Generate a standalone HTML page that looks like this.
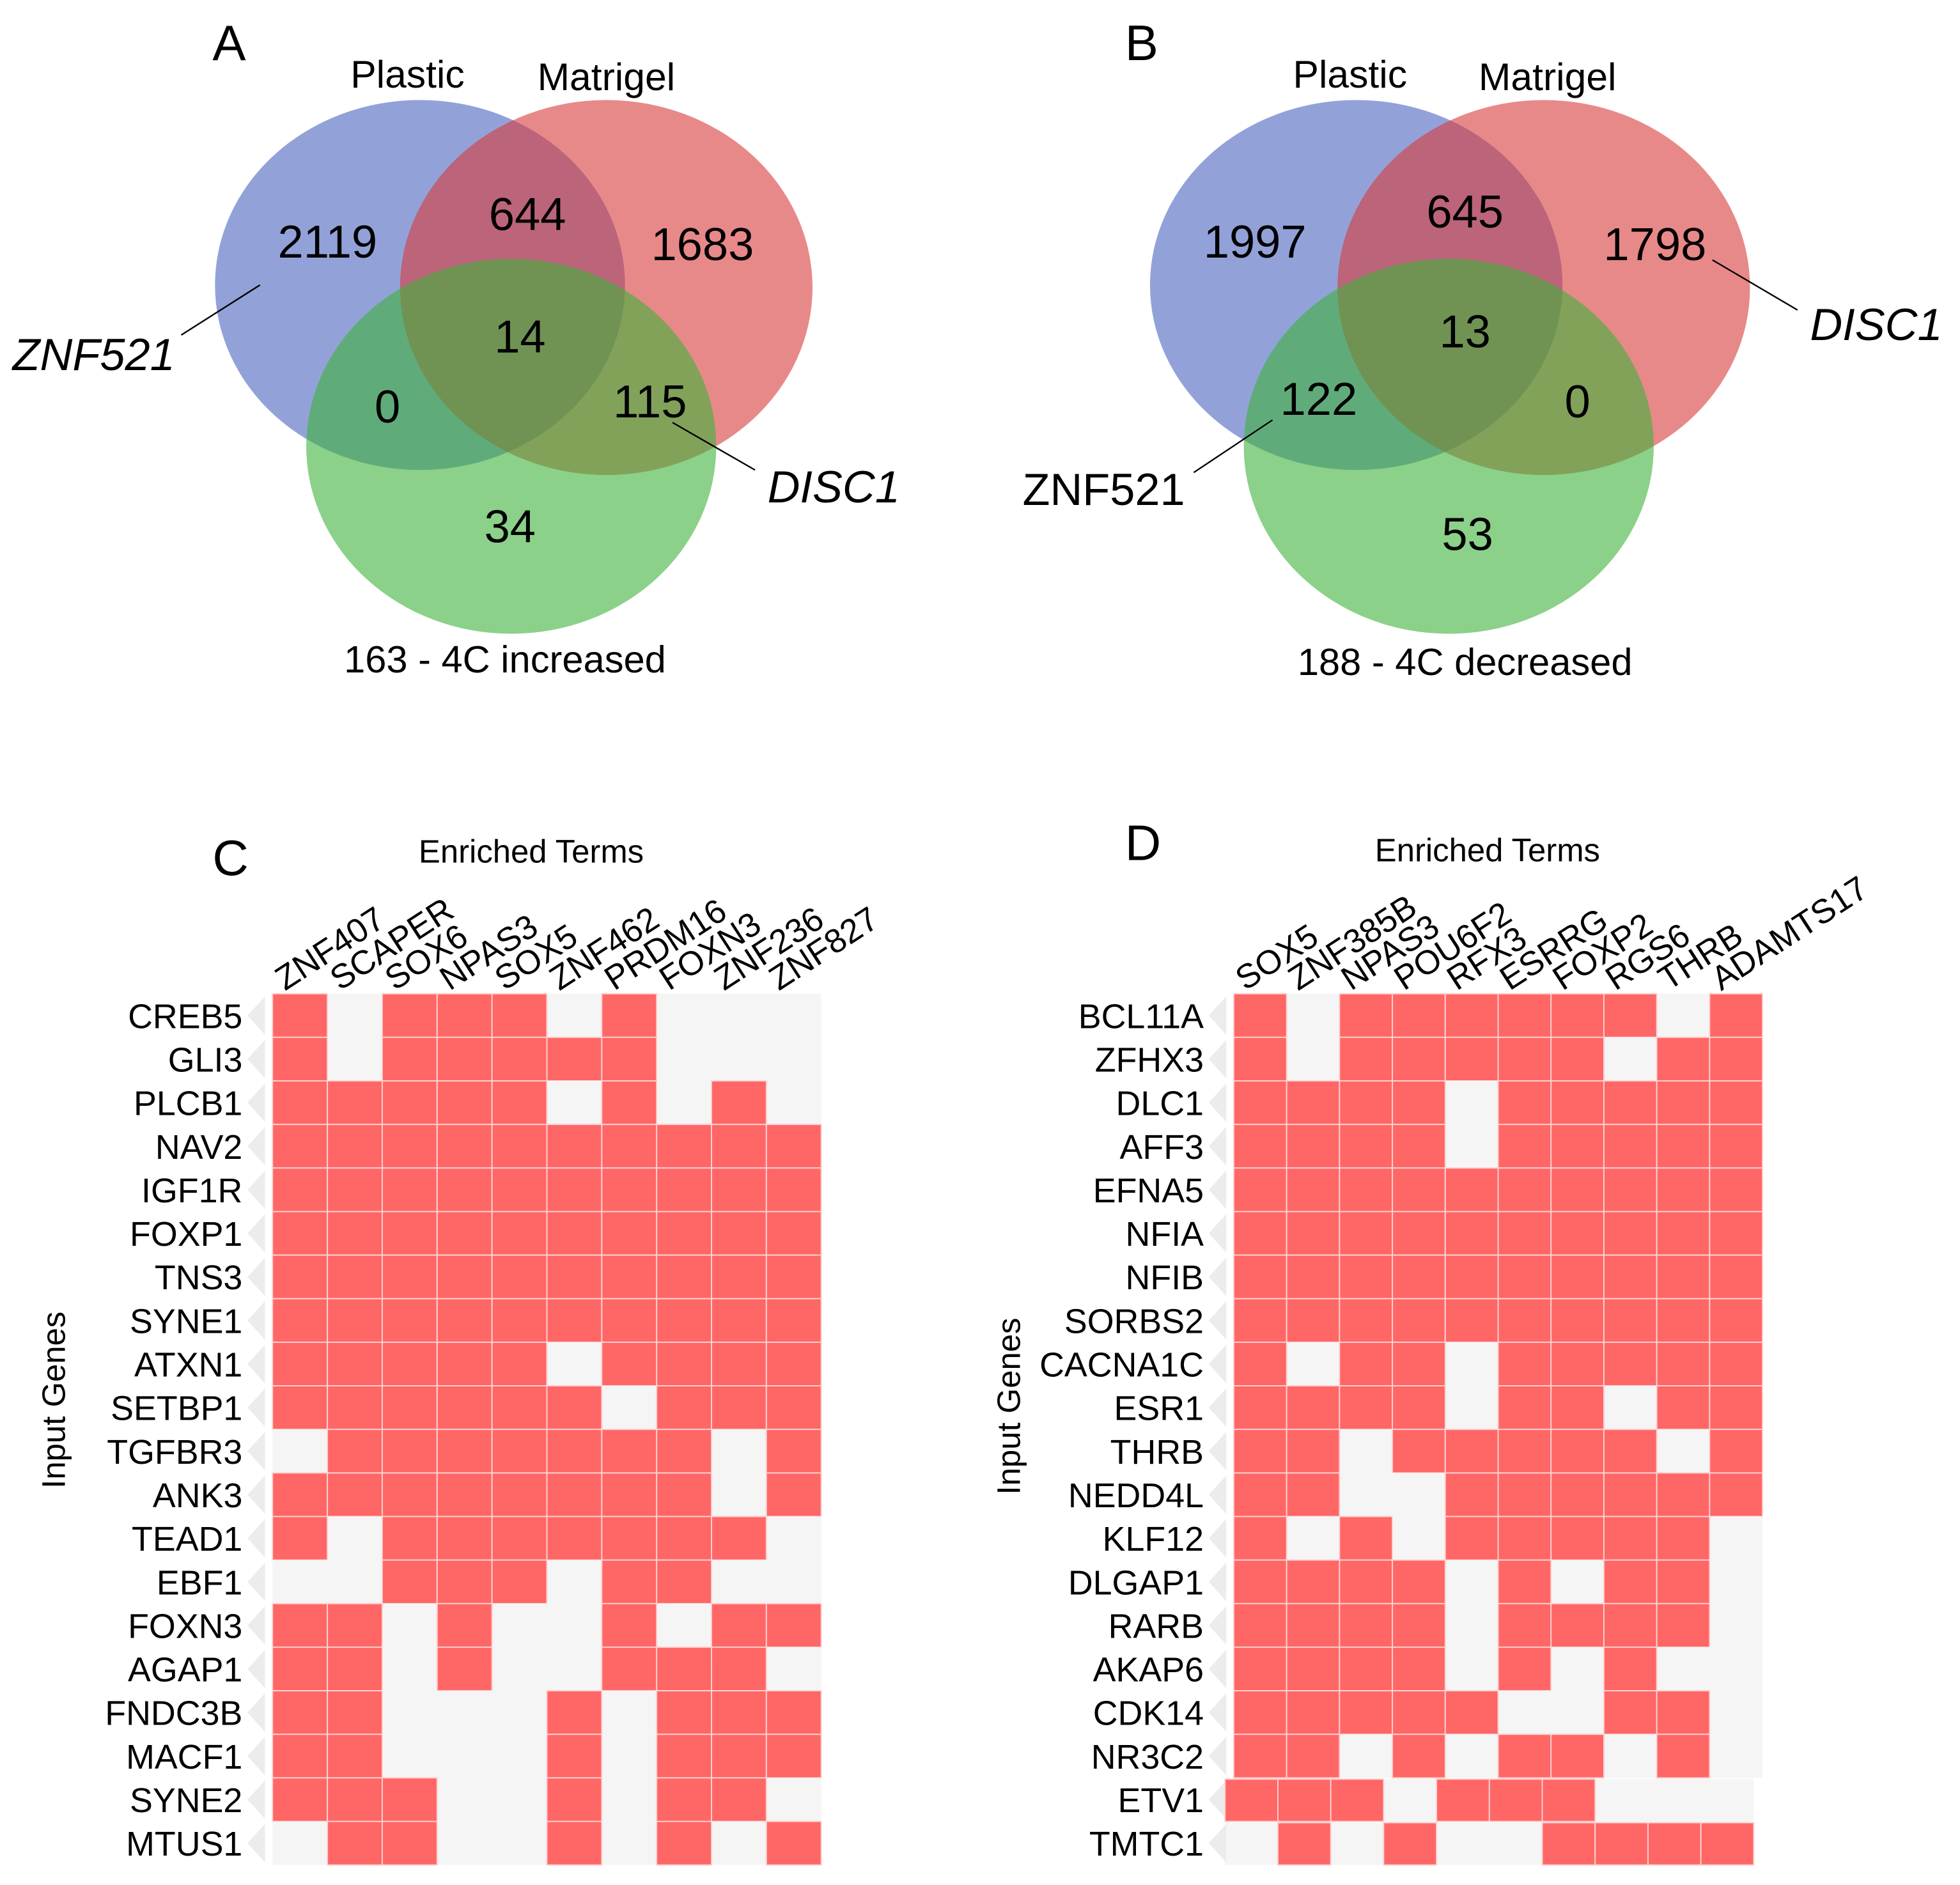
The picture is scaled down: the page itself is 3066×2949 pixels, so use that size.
<!DOCTYPE html>
<html><head><meta charset="utf-8"><style>
html,body{margin:0;padding:0;background:#fff;}
svg{display:block;font-family:"Liberation Sans",sans-serif;}
</style></head><body>
<svg id="fig" width="3066" height="2949" viewBox="0 0 1568 1508" preserveAspectRatio="none" xmlns="http://www.w3.org/2000/svg">
<g>
<text x="170" y="48" font-size="40">A</text>
<text x="326" y="70" font-size="31" text-anchor="middle">Plastic</text>
<text x="485" y="72" font-size="31" text-anchor="middle">Matrigel</text>
<ellipse cx="336" cy="228" rx="164" ry="148" fill="#4a64c0" fill-opacity="0.6"/>
<ellipse cx="485" cy="230" rx="165" ry="150" fill="#d83a3a" fill-opacity="0.6"/>
<ellipse cx="409" cy="357" rx="164" ry="150" fill="#3db33a" fill-opacity="0.6"/>
<g font-size="37" text-anchor="middle">
<text x="262" y="206">2119</text>
<text x="422" y="184">644</text>
<text x="562" y="208">1683</text>
<text x="416" y="282">14</text>
<text x="310" y="338">0</text>
<text x="520" y="334">115</text>
<text x="408" y="434">34</text>
</g>
<line x1="208" y1="228" x2="145" y2="268" stroke="#000" stroke-width="1.2"/>
<text x="10" y="296" font-size="36" font-style="italic">ZNF521</text>
<line x1="538" y1="338" x2="604" y2="376" stroke="#000" stroke-width="1.2"/>
<text x="614" y="402" font-size="36" font-style="italic">DISC1</text>
<text x="404" y="538" font-size="30.5" text-anchor="middle">163 - 4C increased</text>
</g>
<g>
<text x="900" y="48" font-size="40">B</text>
<text x="1080" y="70" font-size="31" text-anchor="middle">Plastic</text>
<text x="1238" y="72" font-size="31" text-anchor="middle">Matrigel</text>
<ellipse cx="1085" cy="228" rx="165" ry="148" fill="#4a64c0" fill-opacity="0.6"/>
<ellipse cx="1235" cy="230" rx="165" ry="150" fill="#d83a3a" fill-opacity="0.6"/>
<ellipse cx="1159" cy="357" rx="164" ry="150" fill="#3db33a" fill-opacity="0.6"/>
<g font-size="37" text-anchor="middle">
<text x="1004" y="206">1997</text>
<text x="1172" y="182">645</text>
<text x="1324" y="208">1798</text>
<text x="1172" y="278">13</text>
<text x="1055" y="332">122</text>
<text x="1262" y="334">0</text>
<text x="1174" y="440">53</text>
</g>
<line x1="1370" y1="208" x2="1438" y2="248" stroke="#000" stroke-width="1.2"/>
<text x="1448" y="272" font-size="36" font-style="italic">DISC1</text>
<line x1="1018" y1="336" x2="955" y2="378" stroke="#000" stroke-width="1.2"/>
<text x="818" y="404" font-size="36">ZNF521</text>
<text x="1172" y="540" font-size="30.5" text-anchor="middle">188 - 4C decreased</text>
</g>
<text x="170" y="700" font-size="40">C</text>
<text x="900" y="688" font-size="40">D</text>
<text x="425" y="690" font-size="26" text-anchor="middle">Enriched Terms</text>
<text x="1190" y="689" font-size="26" text-anchor="middle">Enriched Terms</text>
<text transform="translate(52,1120) rotate(-90)" font-size="26" text-anchor="middle">Input Genes</text>
<text transform="translate(816,1125) rotate(-90)" font-size="26" text-anchor="middle">Input Genes</text>
<g id="hmC"></g>
<g id="hmD"></g>
</svg>
<script>
const termsC = ["ZNF407","SCAPER","SOX6","NPAS3","SOX5","ZNF462","PRDM16","FOXN3","ZNF236","ZNF827"];
const genesC = ["CREB5","GLI3","PLCB1","NAV2","IGF1R","FOXP1","TNS3","SYNE1","ATXN1","SETBP1","TGFBR3","ANK3","TEAD1","EBF1","FOXN3","AGAP1","FNDC3B","MACF1","SYNE2","MTUS1"];
const matrixC = ["1011101000","1011111000","1111101010","1111111111","1111111111","1111111111","1111111111","1111111111","1111101111","1111110111","0111111101","1111111101","1011111110","0011101100","1101001011","1101001110","1100010111","1100010111","1110010110","0110010101"];
const termsD = ["SOX5","ZNF385B","NPAS3","POU6F2","RFX3","ESRRG","FOXP2","RGS6","THRB","ADAMTS17"];
const genesD = ["BCL11A","ZFHX3","DLC1","AFF3","EFNA5","NFIA","NFIB","SORBS2","CACNA1C","ESR1","THRB","NEDD4L","KLF12","DLGAP1","RARB","AKAP6","CDK14","NR3C2","ETV1","TMTC1"];
const matrixD = ["1011111101","1011111011","1111011111","1111011111","1111111111","1111111111","1111111111","1111111111","1011011111","1111011011","1101111101","1100111111","1010111110","1111010110","1111011110","1111010100","1111100110","1101011010","1110111000","0101001111"];
const NS="http://www.w3.org/2000/svg";
function mk(t,a,p){const e=document.createElementNS(NS,t);for(const k in a)e.setAttribute(k,a[k]);p.appendChild(e);return e;}
function draw(g,terms,genes,matrix,x0,x1,y0,y1,shiftRows,shift){
  const nc=terms.length,nr=genes.length,cw=(x1-x0)/nc,rh=(y1-y0)/nr;
  const xs=c=>x0+c*cw, ys=r=>y0+r*rh;
  genes.forEach((gn,r)=>{
    const off=shiftRows.includes(r)?shift:0;
    mk('rect',{x:x0+off,y:ys(r)+(off?1:0),width:x1-x0,height:rh-(off?1:0),fill:'#f5f5f5'},g);
    const t=mk('text',{x:x0-24,y:ys(r)+rh/2+10,'font-size':27.5,'text-anchor':'end'},g);
    t.textContent=gn;
    
    
    mk('polygon',{points:`${x0-6},${ys(r)+2} ${x0-6},${ys(r)+rh-2} ${x0-20},${ys(r)+rh/2}`,fill:'#ececec'},g);
    for(let c=0;c<nc;c++){
      if(matrix[r][c]==='1'){
        const e=mk('rect',{x:xs(c)+off,y:ys(r)+(off?1:0),width:cw,height:rh-(off?1:0),fill:'#ff6666',stroke:'#ffd0d0','stroke-width':1},g);
        
        
      }
    }
  });
  terms.forEach((tm,c)=>{
    const cx=xs(c)+cw/2-12;
    const t=mk('text',{transform:`translate(${cx},${y0-2}) rotate(-33)`,'font-size':27},g);
    t.textContent=tm;
    
    
  });
}
draw(document.getElementById('hmC'),termsC,genesC,matrixC,218,657,795,1492,[],0);
draw(document.getElementById('hmD'),termsD,genesD,matrixD,987,1410,795,1492,[18,19],-7);
</script>
</body></html>
